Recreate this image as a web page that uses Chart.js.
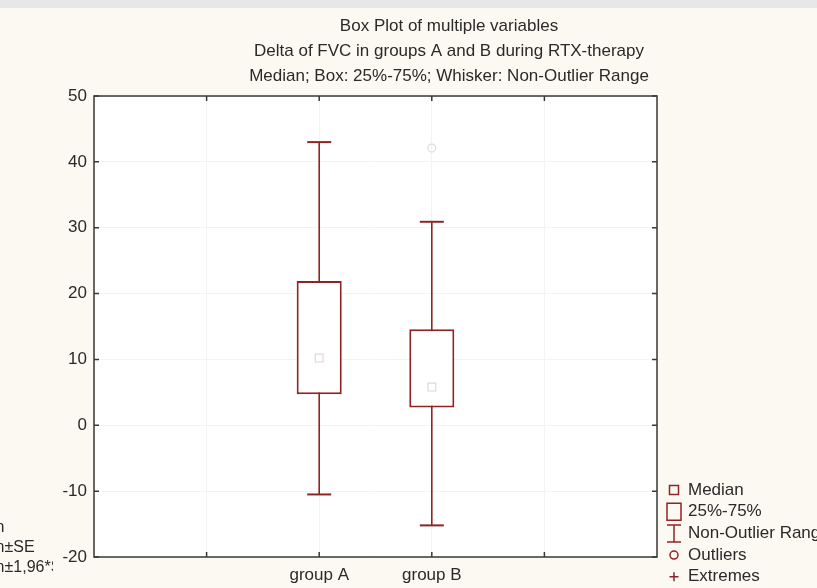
<!DOCTYPE html>
<html>
<head>
<meta charset="utf-8">
<script src="https://cdn.jsdelivr.net/npm/chart.js@4.4.0/dist/chart.umd.min.js"></script>
<style>
  html,body{margin:0;padding:0;background:#fcf8f2;}
  #wrap{width:817px;height:588px;}
</style>
</head>
<body>
<div id="wrap"><canvas id="chart" width="817" height="588"></canvas></div>
<script>
// === Datos ===
const groups = ['group A', 'group B'];
const q1 = [4.7, 2.7];
const q3 = [21.9, 14.6];
const medians = [10.2, 5.8];
const whiskerLow = [-10.5, -15.2];
const whiskerHigh = [43.0, 30.9];
const outliers = [[], [42.1]];
const titleLines = [
  'Box Plot of multiple variables',
  'Delta of FVC in groups A and B during RTX-therapy',
  'Median; Box: 25%-75%; Whisker: Non-Outlier Range'
];
const legendLabels = ['Median', '25%-75%', 'Non-Outlier Range', 'Outliers', 'Extremes'];
const leftLabels = ['Mean', 'Mean±SE', 'Mean±1,96*SD'];

// eje x: dos huecos vacios a cada lado
const xLabels = ['', ''].concat(groups, ['', '']);

const RED = '#8e2424';
const FONT = 'Liberation Sans, Arial, sans-serif';
const TXT = '#2a2a2a';

// plugin para fondo, marco, titulos y leyendas
const statFrame = {
  id: 'statFrame',
  beforeDraw(chart){
    const {ctx, chartArea:a, width, height} = chart;
    ctx.save();
    ctx.fillStyle = '#fcf8f2';
    ctx.fillRect(0, 0, width, height);
    ctx.fillStyle = '#e6e7e9';
    ctx.fillRect(0, 0, width, 8);
    ctx.fillStyle = '#ffffff';
    ctx.fillRect(a.left, a.top, a.right - a.left, a.bottom - a.top);
    ctx.restore();
  },
  afterDraw(chart){
    const {ctx, chartArea:a} = chart;
    const xs = chart.scales.x, ys = chart.scales.y;
    ctx.save();
    // marco
    ctx.strokeStyle = '#383838';
    ctx.lineWidth = 1.5;
    ctx.strokeRect(a.left, a.top, a.right - a.left, a.bottom - a.top);
    // marcas internas
    ctx.beginPath();
    ys.ticks.forEach(t => {
      const py = ys.getPixelForValue(t.value);
      ctx.moveTo(a.left, py); ctx.lineTo(a.left + 5, py);
      ctx.moveTo(a.right - 5, py); ctx.lineTo(a.right, py);
    });
    for(let i=1;i<xLabels.length-1;i++){
      const px = xs.getPixelForValue(i);
      ctx.moveTo(px, a.top); ctx.lineTo(px, a.top + 5);
      ctx.moveTo(px, a.bottom - 5); ctx.lineTo(px, a.bottom);
    }
    ctx.stroke();

    // titulos
    ctx.fillStyle = TXT;
    ctx.font = '17px ' + FONT;
    ctx.textAlign = 'center';
    ctx.textBaseline = 'middle';
    titleLines.forEach((t, i) => ctx.fillText(t, 449, 26 + i * 25));

    // leyenda derecha
    ctx.textAlign = 'left';
    ctx.strokeStyle = RED;
    ctx.lineWidth = 1.5;
    const mx = 674, tx = 688;
    legendLabels.forEach((t, i) => {
      const y = 490 + i * 21.7;
      ctx.beginPath();
      if(i === 0){
        ctx.rect(mx - 4.5, y - 4.5, 9, 9);
      } else if(i === 1){
        ctx.rect(mx - 7, y - 8.5, 14, 17);
      } else if(i === 2){
        ctx.moveTo(mx - 7, y - 8.5); ctx.lineTo(mx + 7, y - 8.5);
        ctx.moveTo(mx, y - 8.5); ctx.lineTo(mx, y + 8.5);
        ctx.moveTo(mx - 7, y + 8.5); ctx.lineTo(mx + 7, y + 8.5);
      } else if(i === 3){
        ctx.arc(mx, y, 4, 0, Math.PI * 2);
      } else {
        ctx.moveTo(mx - 4.5, y); ctx.lineTo(mx + 4.5, y);
        ctx.moveTo(mx, y - 4.5); ctx.lineTo(mx, y + 4.5);
      }
      ctx.stroke();
      ctx.fillText(t, tx, y);
    });

    // leyenda izquierda (cortada)
    ctx.font = '16px ' + FONT;
    ctx.beginPath();
    ctx.rect(0, 500, 53, 88);
    ctx.clip();
    const w0 = ctx.measureText(leftLabels[0]).width;
    leftLabels.forEach((t, i) => ctx.fillText(t, 4.5 - w0, 528 + i * 20));
    ctx.restore();
  }
};

const boxData = groups.map((g, i) => ({x: g, y: [q1[i], q3[i]]}));
const whiskerSets = groups.map((g, i) => ({
  type: 'line',
  data: [{x: g, y: whiskerLow[i]}, {x: g, y: whiskerHigh[i]}],
  borderColor: RED,
  borderWidth: 1.6,
  pointStyle: 'line',
  pointRadius: 12,
  pointHoverRadius: 12,
  pointBorderColor: RED,
  pointBorderWidth: 2,
  order: 3
}));
const outlierPts = [];
groups.forEach((g, i) => outliers[i].forEach(v => outlierPts.push({x: g, y: v})));

new Chart(document.getElementById('chart'), {
  type: 'bar',
  data: {
    labels: xLabels,
    datasets: [
      {
        type: 'line', data: groups.map((g, i) => ({x: g, y: medians[i]})),
        showLine: false, pointStyle: 'rect', pointRadius: 5.5,
        pointBorderColor: '#e4d6d6', pointBackgroundColor: 'rgba(0,0,0,0)', pointBorderWidth: 1.2,
        order: 0
      },
      {
        type: 'line', data: outlierPts,
        showLine: false, pointStyle: 'circle', pointRadius: 4,
        pointBorderColor: '#e6d8d8', pointBackgroundColor: 'rgba(0,0,0,0)', pointBorderWidth: 1.2,
        order: 1
      },
      {
        type: 'bar', data: boxData,
        backgroundColor: '#ffffff', borderColor: RED, borderWidth: 2, borderSkipped: false,
        barPercentage: 0.4, categoryPercentage: 1,
        order: 2
      }
    ].concat(whiskerSets)
  },
  options: {
    responsive: false,
    animation: false,
    devicePixelRatio: 1,
    layout: {padding: {top: 96, right: 160, bottom: 0, left: 0}},
    plugins: {legend: {display: false}, title: {display: false}, tooltip: {enabled: false}},
    scales: {
      x: {
        type: 'category', offset: false,
        grid: {color: '#f5f2ef', drawTicks: false, offset: false},
        border: {display: false},
        ticks: {font: {size: 17, family: FONT}, color: TXT, padding: 8, autoSkip: false, maxRotation: 0},
        afterFit(s){ s.height = 31; }
      },
      y: {
        min: -20, max: 50,
        grid: {color: '#f5f2ef', drawTicks: false},
        border: {display: false},
        ticks: {stepSize: 10, font: {size: 17, family: FONT}, color: TXT, padding: 7},
        afterFit(s){ s.width = 94; }
      }
    }
  },
  plugins: [statFrame]
});
</script>
</body>
</html>
